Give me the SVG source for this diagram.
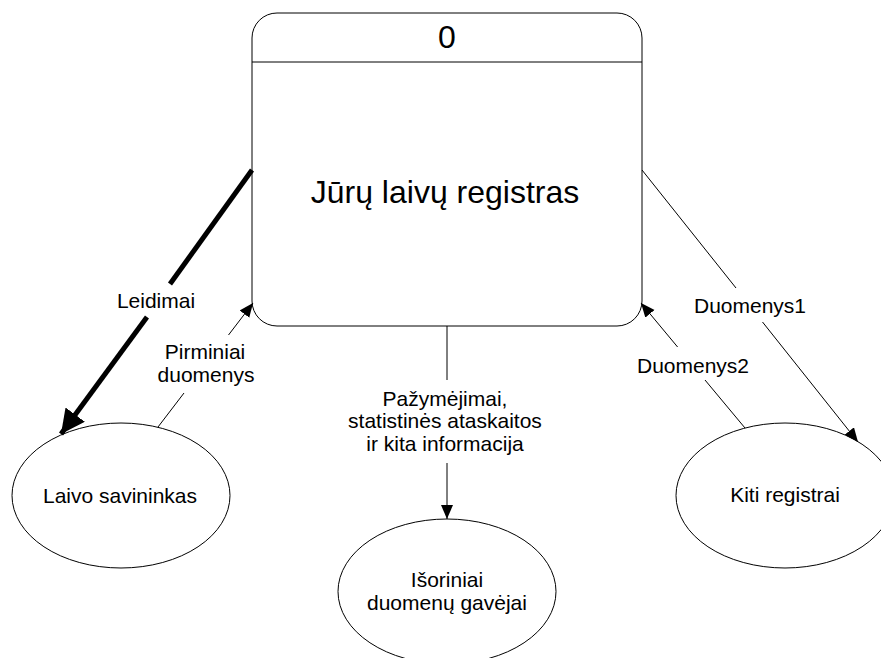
<svg xmlns="http://www.w3.org/2000/svg" width="881" height="658" viewBox="0 0 881 658">
<style>
.shape{fill:#fff;stroke:#000;stroke-width:1}
.t{font-family:"Liberation Sans",Arial,sans-serif;font-size:21px;fill:#000;text-anchor:middle}
.big{font-size:32px}
.c{fill:none;stroke:#000;stroke-width:1}
.thick{fill:none;stroke:#000;stroke-width:5}
</style>
<defs>
<marker id="ah" markerUnits="userSpaceOnUse" markerWidth="16" markerHeight="14" refX="14" refY="6" orient="auto">
<path d="M0,0 L14,6 L0,12 z" fill="#000"/>
</marker>
<marker id="ahThick" markerUnits="userSpaceOnUse" markerWidth="26" markerHeight="26" refX="24" refY="12" orient="auto">
<path d="M0,0 L24,12 L0,24 z" fill="#000"/>
</marker>
</defs>
<rect width="881" height="658" fill="#fff"/>
<g id="process-0">
<rect class="shape" x="252" y="13" width="390" height="313" rx="25" ry="25"/>
<line class="c" x1="252" y1="62" x2="642" y2="62"/>
<text class="t big" x="447" y="48">0</text>
<text class="t big" x="445" y="203">Jūrų laivų registras</text>
</g>
<g id="laivo-savininkas">
<ellipse class="shape" cx="121" cy="495.5" rx="109" ry="72.5"/>
<text class="t" x="120" y="503">Laivo savininkas</text>
</g>
<g id="kiti-registrai">
<ellipse class="shape" cx="785" cy="495.5" rx="109" ry="72.5"/>
<text class="t" x="785" y="502">Kiti registrai</text>
</g>
<g id="isoriniai-gavejai">
<ellipse class="shape" cx="447" cy="591.5" rx="109" ry="72.5"/>
<text class="t" x="447" y="587">Išoriniai</text>
<text class="t" x="447" y="610">duomenų gavėjai</text>
</g>
<g id="connectors">
<line class="thick" x1="252" y1="170" x2="170" y2="284"/>
<line class="thick" x1="147" y1="317" x2="61" y2="434" marker-end="url(#ahThick)"/>
<text class="t" x="156" y="308">Leidimai</text>
<line class="c" x1="158" y1="427" x2="184" y2="393"/>
<line class="c" x1="228.5" y1="335" x2="253" y2="303" marker-end="url(#ah)"/>
<text class="t" x="205" y="359">Pirminiai</text>
<text class="t" x="206" y="382">duomenys</text>
<line class="c" x1="447" y1="326" x2="447" y2="380"/>
<line class="c" x1="447" y1="463" x2="447" y2="519" marker-end="url(#ah)"/>
<text class="t" x="445" y="406">Pažymėjimai,</text>
<text class="t" x="445" y="428">statistinės ataskaitos</text>
<text class="t" x="445" y="451">ir kita informacija</text>
<line class="c" x1="745" y1="428" x2="705" y2="380"/>
<line class="c" x1="677.6" y1="347" x2="641" y2="303" marker-end="url(#ah)"/>
<text class="t" x="693" y="373">Duomenys2</text>
<line class="c" x1="642" y1="170" x2="736" y2="288"/>
<line class="c" x1="762.5" y1="322" x2="858" y2="442" marker-end="url(#ah)"/>
<text class="t" x="750" y="313">Duomenys1</text>
</g>
</svg>
